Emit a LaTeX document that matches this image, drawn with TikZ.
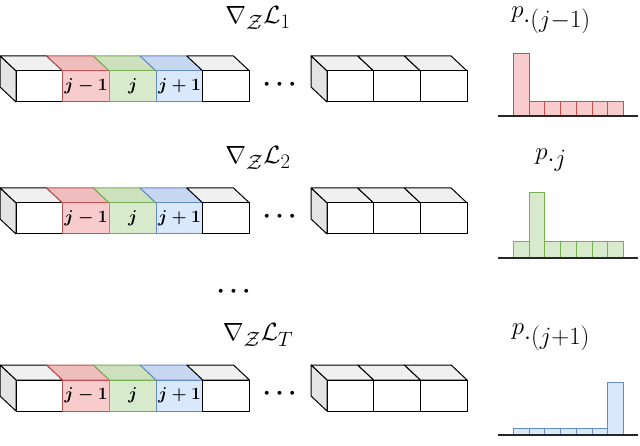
\documentclass[tikz,border=0pt]{standalone}
\usepackage{amsmath,amssymb}
\begin{document}
\definecolor{rf}{RGB}{248,204,204}\definecolor{rs}{RGB}{196,80,80}\definecolor{rt}{RGB}{238,190,190}
\definecolor{gf}{RGB}{216,234,204}\definecolor{gs}{RGB}{120,175,85}\definecolor{gt}{RGB}{205,225,190}
\definecolor{bf}{RGB}{218,232,252}\definecolor{bs}{RGB}{100,140,205}\definecolor{bt}{RGB}{200,215,240}
\definecolor{lt}{RGB}{240,240,240}\definecolor{lf}{RGB}{228,228,228}
\begin{tikzpicture}[x=1pt,y=-1pt,
  face/.style={line width=1pt,line join=round},
  lab/.style={font=\fontsize{17}{20}\selectfont},
  big/.style={font=\fontsize{30}{34}\selectfont},
  plab/.style={font=\fontsize{34}{38}\selectfont,inner sep=0pt}]
\useasboundingbox (0,0) rectangle (640,446);
\foreach \t/\r in {71/1,203/2,380/3}{
  \pgfmathsetmacro{\b}{\t+31}
  \foreach \i/\ff/\tf/\sc/\lb in {0/white/lt/black/,1/rf/rt/rs/{$\boldsymbol{j-1}$},2/gf/gt/gs/{$\boldsymbol{j}$},3/bf/bt/bs/{$\boldsymbol{j+1}$},4/white/lt/black/}{
    \pgfmathsetmacro{\xa}{16+46.7*\i}\pgfmathsetmacro{\xb}{\xa+46.7}
    \filldraw[face,fill=\tf,draw=\sc] (\xa,\t) -- (\xb,\t) -- (\xb-16,\t-15) -- (\xa-16,\t-15) -- cycle;
    \filldraw[face,fill=\ff,draw=\sc] (\xa,\t) rectangle (\xb,\b);
    \node[lab,inner sep=0pt] (c\r\i) at ({(\xa+\xb)/2},{(\t+\b)/2}) {\lb};
  }
  \filldraw[face,fill=lf] (16,\t) -- (0,\t-15) -- (0,\b-15) -- (16,\b) -- cycle;
  \draw[face] (16,\t)--(16,\b);
  \node[font=\fontsize{26}{26}\selectfont] (d\r) at (282,{(\t+\b)/2-2}) {$\boldsymbol{\cdots}$};
  \foreach \i in {0,1,2}{
    \pgfmathsetmacro{\xa}{327+46.7*\i}\pgfmathsetmacro{\xb}{\xa+46.7}
    \filldraw[face,fill=lt] (\xa,\t) -- (\xb,\t) -- (\xb-16,\t-15) -- (\xa-16,\t-15) -- cycle;
    \filldraw[face,fill=white] (\xa,\t) rectangle (\xb,\b);
  }
  \filldraw[face,fill=lf] (327,\t) -- (311,\t-15) -- (311,\b-15) -- (327,\b) -- cycle;
}
\node[big] (g1) at (258,18) {$\nabla_{\mathcal{Z}}\mathcal{L}_1$};
\node[big] (g2) at (258,158) {$\nabla_{\mathcal{Z}}\mathcal{L}_2$};
\node[big] (gT) at (258,335) {$\nabla_{\mathcal{Z}}\mathcal{L}_T$};
\node[font=\fontsize{40}{40}\selectfont] (vd) at (236,292) {$\boldsymbol{\cdots}$};
\node[plab] (p1) at (551,20) {$p_{\cdot(j-1)}$};
\node[plab] (p2) at (551,160) {$p_{\cdot j}$};
\node[plab] (p3) at (551,337) {$p_{\cdot(j+1)}$};
\foreach \base/\tall/\short/\k/\f/\s in {116/53/101/0/rf/rs, 258/192/241/1/gf/gs, 435/382/428/6/bf/bs}{
  \foreach \i in {0,...,6}{
    \pgfmathsetmacro{\xa}{513.5+15.7*\i}
    \pgfmathsetmacro{\top}{\i==\k ? \tall : \short}
    \filldraw[fill=\f,draw=\s,line width=0.9pt] (\xa,\base) rectangle (\xa+15.7,\top);
  }
  \draw[line width=1.2pt,black!85] (498,\base) -- (638,\base);
}
\end{tikzpicture}
\end{document}
